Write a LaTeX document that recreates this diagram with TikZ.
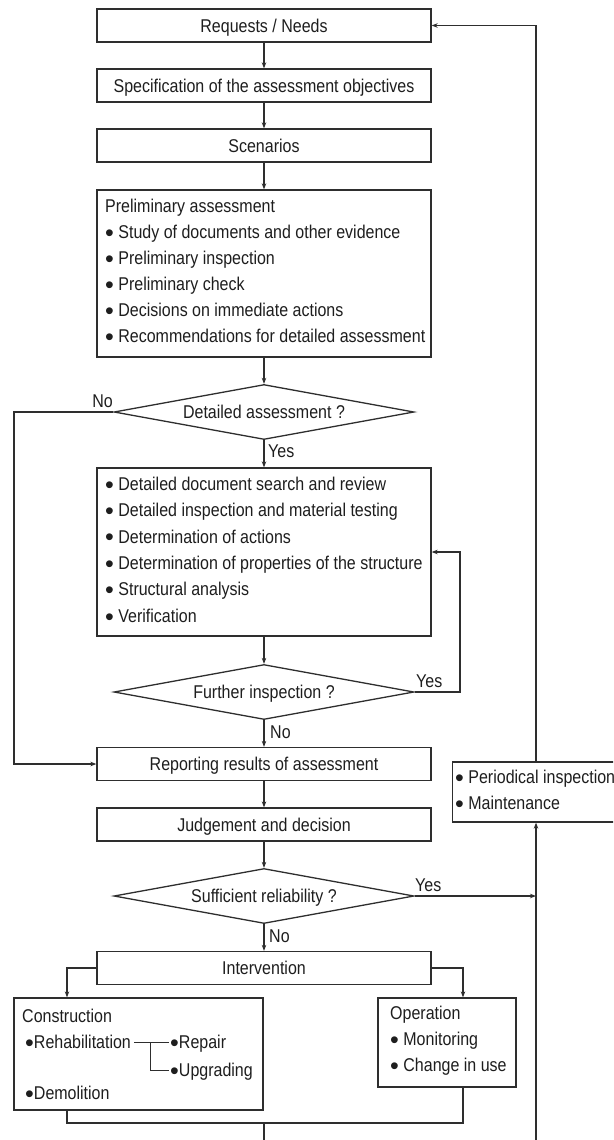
\documentclass[tikz,border=0pt]{standalone}
\usepackage{fontspec}
\setmainfont{Liberation Sans}[FakeStretch=0.865]
\newfontfamily\bulletfont{Liberation Sans}
\newcommand\blt{{\bulletfont\fontsize{25}{25}\selectfont\raisebox{-2.7pt}{•}}}
\usetikzlibrary{shapes.geometric,arrows.meta}
\definecolor{ink}{HTML}{2E2E2E}
\definecolor{textink}{HTML}{1E1E1E}

\begin{document}
\begin{tikzpicture}[x=1pt,y=-1pt,
  txt/.style={font=\fontsize{18.5}{26}\selectfont, text=textink, inner sep=0pt},
  one/.style={txt, text height=13.3pt, text depth=0pt},
  lines/.style={txt, align=left, anchor=west},
  frame/.style={draw=ink, line width=1.3pt, fill=white, inner sep=0pt},
  box/.style={frame, one, minimum width=334pt, minimum height=33pt},
  dia/.style={frame, one, diamond, aspect=5.45, minimum width=300pt, minimum height=55pt},
  con/.style={draw=ink, line width=1.2pt},
  arr/.style={con, -{Stealth[length=6pt,width=4.5pt]}},
  lab/.style={one}]

\clip (0,0) rectangle (613,1140);
\fill[white] (0,0) rectangle (613,1140);

% main column
\node[box] (req)  at (264,25.5)  {Requests / Needs};
\node[box] (spec) at (264,85.5)  {Specification of the assessment objectives};
\node[box] (scen) at (264,145.5) {Scenarios};
\node[frame, minimum width=334pt, minimum height=167pt] (pre) at (264,273.5) {};
\node[lines] (pretxt) at (105,272)
  {Preliminary assessment\\
   \blt\ Study of documents and other evidence\\
   \blt\ Preliminary inspection\\
   \blt\ Preliminary check\\
   \blt\ Decisions on immediate actions\\
   \blt\ Recommendations for detailed assessment};
\node[dia] (d1) at (264,412) {Detailed assessment ?};
\node[frame, minimum width=334pt, minimum height=168pt] (det) at (264,552) {};
\node[lines, font=\fontsize{18.5}{26.4}\selectfont] (dettxt) at (105,551)
  {\blt\ Detailed document search and review\\
   \blt\ Detailed inspection and material testing\\
   \blt\ Determination of actions\\
   \blt\ Determination of properties of the structure\\
   \blt\ Structural analysis\\
   \blt\ Verification};
\node[dia] (d2) at (264,692) {Further inspection ?};
\node[box] (rep) at (264,764)   {Reporting results of assessment};
\node[box] (jud) at (264,824.5) {Judgement and decision};
\node[dia] (d3) at (264,896) {Sufficient reliability ?};
\node[box] (int) at (264,968) {Intervention};

% side box on the return path
\node[frame, minimum width=208pt, minimum height=60pt, anchor=west] (per) at (452,792) {};
\node[lines] (pertxt) at (455,791)
  {\blt\ Periodical inspection\\
   \blt\ Maintenance};

% intervention branches
\node[frame, minimum width=249pt, minimum height=112pt] (cons) at (138.5,1054) {};
\node[lab, anchor=west] (ctitle) at (22,1016) {Construction};
\node[lab, anchor=west] (reh) at (25,1042) {\blt Rehabilitation};
\node[lab, anchor=west] (rpr) at (170,1042) {\blt Repair};
\node[lab, anchor=west] (upg) at (170,1070) {\blt Upgrading};
\node[lab, anchor=west] (dem) at (25,1093) {\blt Demolition};
\node[frame, minimum width=138pt, minimum height=89pt] (op) at (447,1042.5) {};
\node[lines] (optxt) at (390,1041)
  {Operation\\
   \blt\ Monitoring\\
   \blt\ Change in use};

% routing coordinates
\coordinate (rx)  at (536,0);
\coordinate (fx)  at (460,0);
\coordinate (lx)  at (14,0);
\coordinate (cx1) at (67,0);
\coordinate (cx2) at (463,0);
\coordinate (jy)  at (0,1123);
\coordinate (bot) at (0,1150);
\coordinate (brk) at (150,1042);

% main flow
\draw[arr] (req) -- (spec);
\draw[arr] (spec) -- (scen);
\draw[arr] (scen) -- (pre);
\draw[arr] (pre) -- (d1);
\draw[arr] (d1) -- (det);
\draw[arr] (det) -- (d2);
\draw[arr] (d2) -- (rep);
\draw[arr] (rep) -- (jud);
\draw[arr] (jud) -- (d3);
\draw[arr] (d3) -- (int);

% decision branches
\draw[arr] (d1.west) -| (lx |- rep) -- (rep.west);
\draw[arr] (d2.east) -| (fx |- det) -- (det.east);
\draw[arr] (d3.east) -- (rx |- d3);

% return path
\draw[arr] (rx |- bot) -- (per.south -| rx);
\draw[arr] (per.north -| rx) |- (req.east);

% intervention
\draw[arr] (int.west) -| (cons.north -| cx1);
\draw[arr] (int.east) -| (op.north -| cx2);
\draw[con] (cons.south -| cx1) |- (jy -| cx2) -- (op.south -| cx2);
\draw[con] (jy -| int) -- (bot -| int);

% rehabilitation bracket
\draw[draw=ink, line width=1pt] ([xshift=3pt]reh.east) -- ([xshift=-1pt]rpr.west);
\draw[draw=ink, line width=1pt] (brk) |- ([xshift=-1pt]upg.west);

% branch labels
\node[lab, anchor=south east] (no1)  at (113,408) {No};
\node[lab, anchor=south west] (yes1) at (268,458) {Yes};
\node[lab, anchor=south west] (yes2) at (416,688) {Yes};
\node[lab, anchor=south west] (no2)  at (270,739) {No};
\node[lab, anchor=south west] (yes3) at (415,892) {Yes};
\node[lab, anchor=south west] (no3)  at (269,943) {No};
\end{tikzpicture}
\end{document}
